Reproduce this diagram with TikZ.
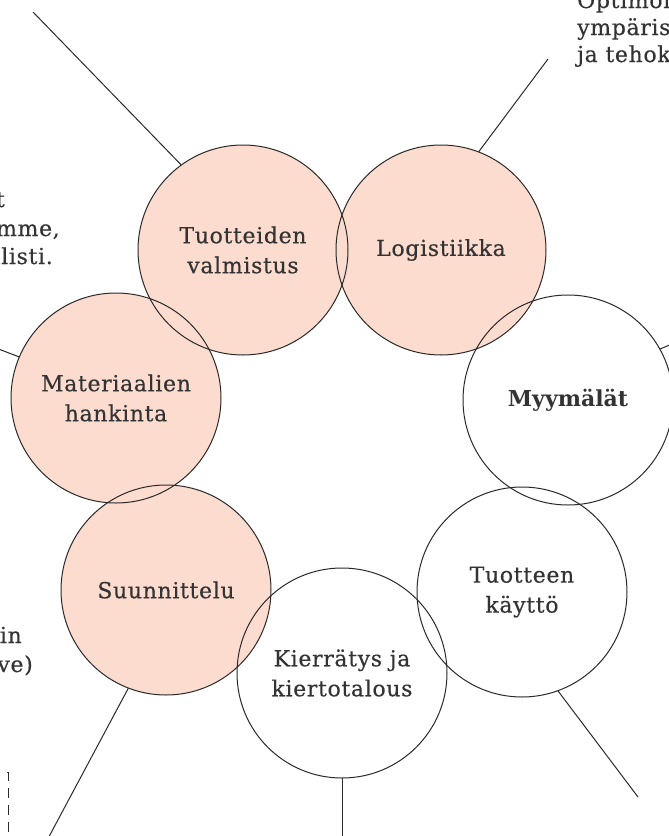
\documentclass[tikz,border=0pt]{standalone}
\usepackage{fontspec}
\setmainfont{DejaVu Serif}[LetterSpace=3, FakeBold=0.4, BoldFeatures={LetterSpace=0, FakeBold=0}]
\usetikzlibrary{positioning}
\definecolor{peach}{HTML}{FDDCD0}
\definecolor{ink}{HTML}{2A2A2A}
\definecolor{txt}{HTML}{333333}
\tikzset{
  stage/.style={circle, minimum size=210pt, inner sep=0pt, align=center,
    text=txt, font=\fontsize{22}{30}\selectfont},
  link/.style={draw=ink, line width=1pt},
  note/.style={inner sep=0pt, text=txt, font=\fontsize{22}{28}\selectfont},
}

\begin{document}
\begin{tikzpicture}[x=1pt,y=-1pt]
\useasboundingbox (0,0) rectangle (669,836);
\clip (0,0) rectangle (669,836);

% Stages of the cycle
\node[stage, fill=peach] (valm) at (243,250) {Tuotteiden\\valmistus};
\node[stage, fill=peach] (logi) at (441,250) {Logistiikka};
\node[stage] (myym) at (568,400) {\bfseries Myymälät};
\node[stage] (kaytto) at (522,592) {Tuotteen\\käyttö};
\node[stage] (kierr) at (342,673) {Kierrätys ja\\kiertotalous};
\node[stage, fill=peach] (suun) at (166,590) {Suunnittelu};
\node[stage, fill=peach] (mater) at (116,398) {Materiaalien\\hankinta};

% Outlines on top of the fills
\foreach \n in {valm,logi,myym,kaytto,kierr,suun,mater}
  \draw[ink, line width=1pt] (\n.center) circle (105pt);

% Free ends of the callout lines
\coordinate (endvalm) at (33,12);
\coordinate (endlogi) at (548,59);
\coordinate (endmyym) at (684,339);
\coordinate (endmater) at (-12,345);
\coordinate (endsuun) at (44,846);
\coordinate (endkierr) at (342,846);
\coordinate (endkaytto) at (638,797);

\draw[link] (valm.126) -- (endvalm);
\draw[link] (logi.69.5) -- (endlogi);
\draw[link] (myym.29.4) -- (endmyym);
\draw[link] (mater.157) -- (endmater);
\draw[link] (suun.249.3) -- (endsuun);
\draw[link] (kierr.south) -- (endkierr);
\draw[link] (kaytto.-70.4) -- (endkaytto);

% Cut-off notes at the edges
\node[note, anchor=base west] (opt1) at (577,8) {Optimoi};
\node[note, anchor=base west] (opt2) at (577,35) {ympäris};
\node[note, anchor=base west] (opt3) at (577,62) {ja tehok};

\node[note, anchor=base east] (left1) at (5,207) {t};
\node[note, anchor=base east] (left2) at (60,236) {mme,};
\node[note, anchor=base east] (left3) at (53,264) {alisti.};

\node[note, anchor=base east] (low1) at (22,643) {in};
\node[note, anchor=base east] (low2) at (33,672) {ive)};

% Dashed box corner
\draw[ink, line width=0.8pt, dash pattern=on 10pt off 7pt] (-10,772) -- (8,772) -- (8,850);
\end{tikzpicture}
\end{document}
